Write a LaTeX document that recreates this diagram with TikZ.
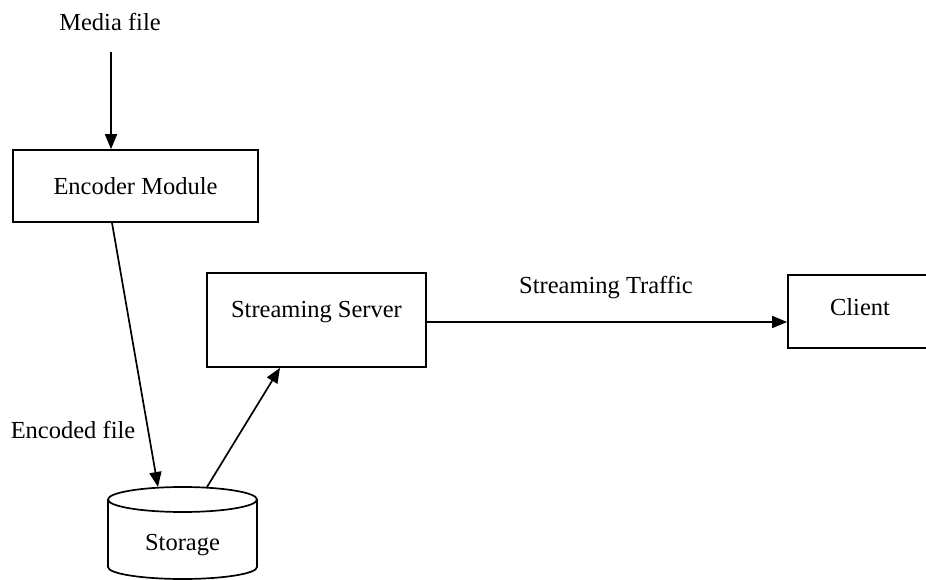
\documentclass[tikz,border=0pt]{standalone}
\usepackage{fontspec}
\setmainfont{Liberation Serif}
\usetikzlibrary{arrows.meta}
\begin{document}
\begin{tikzpicture}[x=1pt,y=-1pt,
  every node/.style={font=\fontsize{24.5}{29}\selectfont},
  box/.style={draw, line width=1.7pt, rectangle, inner sep=0pt},
  arr/.style={line width=1.7pt, -{Triangle[length=15pt,width=12pt]}},
  lbl/.style={inner sep=0pt}]
\useasboundingbox (0,0) rectangle (926,580);
\clip (0,0) rectangle (926,580);
% boxes
\node[box, minimum width=245pt, minimum height=72pt] (enc) at (135.5,186) {Encoder Module};
\node[box, minimum width=219pt, minimum height=94pt, text depth=21pt] (srv) at (316.5,320) {Streaming Server};
\node[box, minimum width=144pt, minimum height=73pt, text depth=10pt] (cli) at (860,311.5) {Client};
% storage cylinder
\draw[line width=1.7pt] (108,499.5) -- (108,567) arc[start angle=180, end angle=360, x radius=74.5pt, y radius=12pt] -- (257,499.5);
\draw[line width=1.7pt] (182.5,499.5) ellipse[x radius=74.5pt, y radius=12.5pt];
\node[lbl] (sto) at (182.5,545) {Storage};
\coordinate (stin) at (158,487);
\coordinate (stout) at (207,487);
% labels
\node[lbl] (media) at (110,22) {Media file};
\node[lbl] (encf) at (73,430) {Encoded file};
\node[lbl] (traf) at (606,288) {Streaming Traffic};
\coordinate (mtop) at (111,52);
% arrows
\draw[arr] (mtop) -- (enc.north -| mtop);
\draw[arr] ([xshift=-23.5pt]enc.south) -- (stin);
\draw[arr] (stout) -- ([xshift=-36.5pt]srv.south);
\draw[arr] ([yshift=-2pt]srv.east) -- ([yshift=-2pt]srv.east -| cli.west);
\end{tikzpicture}
\end{document}
